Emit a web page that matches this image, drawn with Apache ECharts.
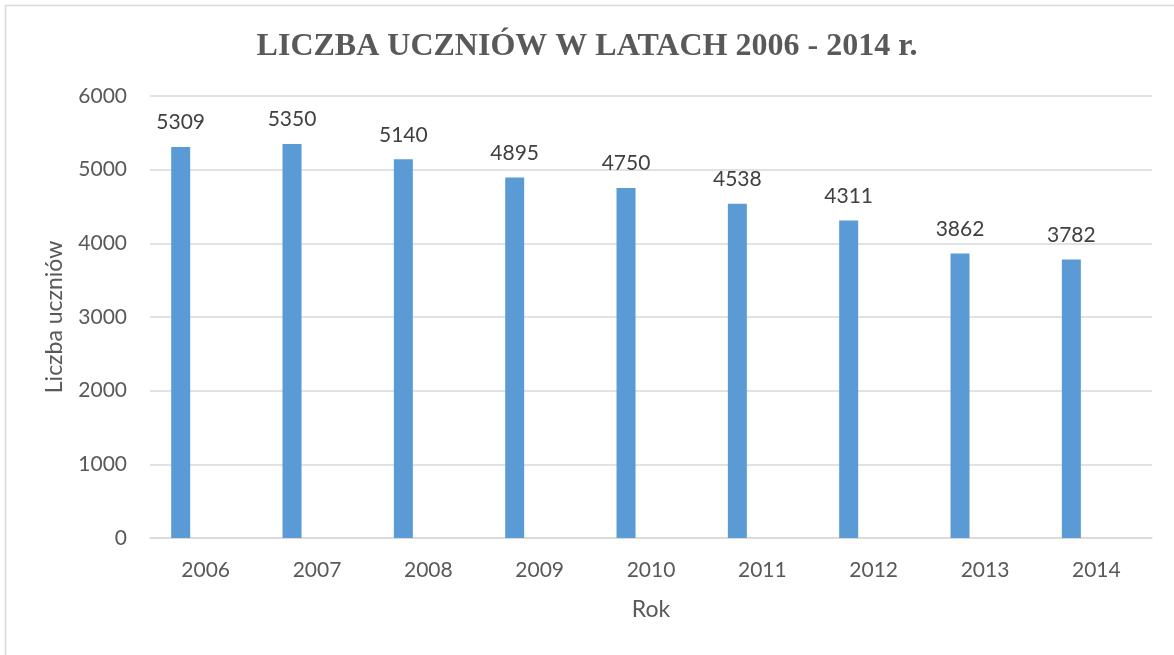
<!DOCTYPE html>
<html>
<head>
<meta charset="utf-8">
<script src="https://cdn.jsdelivr.net/npm/echarts@6/dist/echarts.min.js"></script>
<style>
  html, body { margin: 0; padding: 0; background: #fff; }
  #chart { width: 1174px; height: 655px; }
</style>
</head>
<body>
<div id="chart"></div>
<script>
const years = ['2006', '2007', '2008', '2009', '2010', '2011', '2012', '2013', '2014'];
const students = [5309, 5350, 5140, 4895, 4750, 4538, 4311, 3862, 3782];
const emptySeries = [null, null, null, null, null, null, null, null, null];

const TEXT = '#595959';
const FONT = 'Lato';

const chart = echarts.init(document.getElementById('chart'));

chart.setOption({
  backgroundColor: '#fff',
  animation: false,
  graphic: [{
    type: 'rect',
    shape: { x: 5.5, y: 5.5, width: 1300, height: 800 },
    style: { fill: 'none', stroke: '#d9d9d9', lineWidth: 1.5 },
    silent: true
  }],
  title: {
    text: 'LICZBA UCZNIÓW W LATACH 2006 - 2014 r.',
    left: 'center',
    top: 26,
    textStyle: { fontFamily: 'Liberation Serif', fontWeight: 'bold', fontSize: 32, color: TEXT }
  },
  grid: { left: 150, right: 22, top: 96, bottom: 117 },
  xAxis: {
    type: 'category',
    data: years,
    name: 'Rok',
    nameLocation: 'middle',
    nameGap: 60,
    nameTextStyle: { fontFamily: FONT, fontSize: 23, color: TEXT },
    axisLine: { lineStyle: { color: '#d9d9d9', width: 1.5 } },
    axisTick: { show: false },
    axisLabel: { fontFamily: FONT, fontSize: 21, color: TEXT, margin: 22 }
  },
  yAxis: {
    type: 'value',
    min: 0,
    max: 6000,
    interval: 1000,
    name: 'Liczba uczniów',
    nameLocation: 'middle',
    nameGap: 84,
    nameTextStyle: { fontFamily: FONT, fontSize: 23, color: TEXT },
    axisLine: { show: false },
    axisTick: { show: false },
    splitLine: { lineStyle: { color: '#d9d9d9', width: 1.5 } },
    axisLabel: { fontFamily: FONT, fontSize: 21, color: TEXT, margin: 23, formatter: v => String(v) }
  },
  series: [
    {
      name: 'Liczba uczniów',
      type: 'bar',
      data: students,
      barWidth: 19,
      barGap: '163%',
      itemStyle: { color: '#5b9bd5' },
      label: {
        show: true,
        position: 'top',
        distance: 14,
        fontFamily: FONT,
        fontSize: 21,
        color: '#404040'
      }
    },
    {
      name: 'puste',
      type: 'bar',
      data: emptySeries,
      barWidth: 19,
      itemStyle: { color: '#ed7d31' }
    }
  ]
});
</script>
</body>
</html>
